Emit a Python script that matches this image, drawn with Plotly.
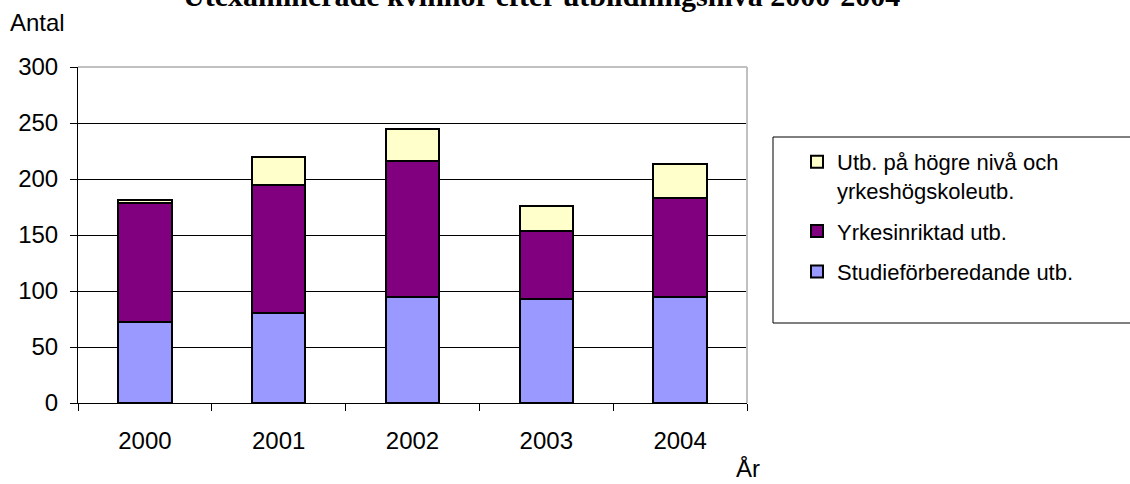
import plotly.graph_objects as go

years = ["2000", "2001", "2002", "2003", "2004"]
studie = [72, 80, 95, 93, 95]
yrkes = [107, 115, 121, 61, 88]
hogre = [2, 25, 29, 22, 30]

names = ["Studieförberedande utb.", "Yrkesinriktad utb.",
         "Utb. på högre nivå och<br>yrkeshögskoleutb."]
colors = ["#9999FF", "#800080", "#FFFFCC"]
ranks = [3, 2, 1]
series = [studie, yrkes, hogre]

W, H = 1130, 484
L, R, T, B = 78, 747, 67, 403

def px(x):
    return (x - L) / (R - L)

def py(y):
    return (B - y) / (B - T)

fig = go.Figure()
for i, (nm, col, vals, rk) in enumerate(zip(names, colors, series, ranks)):
    fig.add_trace(go.Bar(
        x=years, y=vals, name=nm, legendgroup=f"g{i}", legendrank=rk,
        marker=dict(color=col, line=dict(color="black", width=2)),
    ))

FONT = "Liberation Sans, Arial, sans-serif"

fig.update_layout(
    width=W, height=H,
    margin=dict(l=L, r=W - R, t=T, b=H - B, pad=0),
    barmode="stack", bargap=0.6,
    plot_bgcolor="white", paper_bgcolor="white",
    font=dict(family=FONT, size=24, color="black"),
    showlegend=True,
    legend=dict(
        x=px(797), xanchor="left", y=py(141), yanchor="top",
        traceorder="grouped", tracegroupgap=9,
        valign="top",
        font=dict(family=FONT, size=22, color="black"),
        bgcolor="rgba(0,0,0,0)", borderwidth=0,
    ),
    xaxis=dict(
        type="category", range=[-0.5, 4.5], tickson="boundaries",
        ticks="outside", ticklen=7, tickcolor="black", tickwidth=1,
        showline=True, linecolor="black", linewidth=1,
        showgrid=False, ticklabelstandoff=16,
        tickfont=dict(family=FONT, size=24, color="black"),
    ),
    yaxis=dict(
        range=[0, 300], tickvals=[0, 50, 100, 150, 200, 250, 300],
        ticks="outside", ticklen=7, tickcolor="black", tickwidth=1,
        showline=True, linecolor="black", linewidth=1,
        showgrid=True, gridcolor="black", gridwidth=1, zeroline=False,
        ticklabelstandoff=7,
        tickfont=dict(family=FONT, size=24, color="black"),
    ),
)

# plot-area border (top and right, gray)
fig.add_shape(type="line", xref="paper", yref="paper", x0=0, x1=1, y0=1, y1=1,
              line=dict(color="#C0C0C0", width=2), layer="above")
fig.add_shape(type="line", xref="paper", yref="paper", x0=1, x1=1, y0=0, y1=1,
              line=dict(color="#C0C0C0", width=2), layer="above")
# legend frame
fig.add_shape(type="rect", xref="paper", yref="paper",
              x0=px(773), x1=px(1140), y0=py(323), y1=py(137),
              line=dict(color="black", width=1), layer="above")

fig.add_annotation(text="<b>Utexaminerade kvinnor efter utbildningsnivå 2000-2004</b>",
                   xref="paper", yref="paper", x=px(541), y=py(14),
                   xanchor="center", yanchor="bottom", showarrow=False,
                   font=dict(family="Liberation Serif, Times New Roman, serif", size=30, color="black"))
fig.add_annotation(text="Antal", xref="paper", yref="paper", x=px(8), y=py(38),
                   xanchor="left", yanchor="bottom", showarrow=False,
                   font=dict(family=FONT, size=24, color="black"))
fig.add_annotation(text="År", xref="paper", yref="paper", x=px(748), y=py(484),
                   xanchor="center", yanchor="bottom", showarrow=False,
                   font=dict(family=FONT, size=24, color="black"))

fig.write_html("out.html", config={"displayModeBar": False},
               post_script="document.body.style.margin='0';document.body.style.overflow='hidden';")
